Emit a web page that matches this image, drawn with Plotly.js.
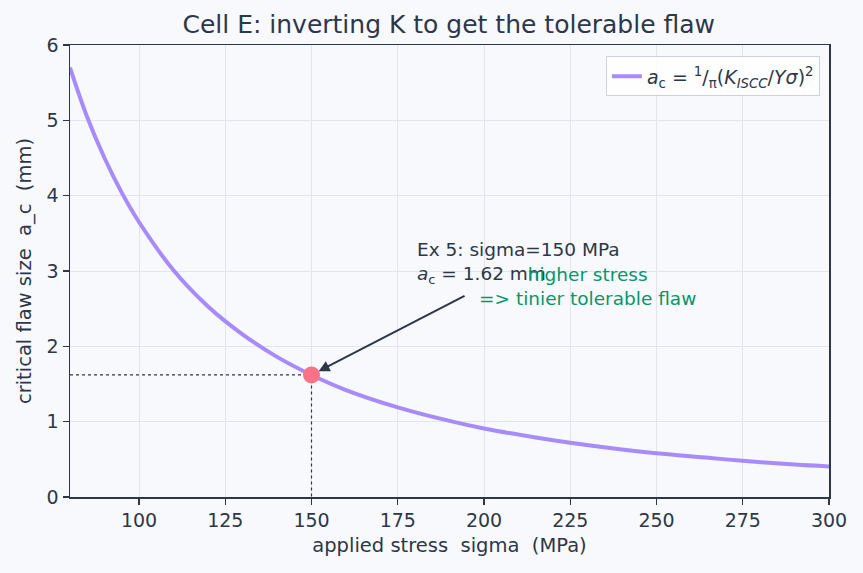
<!DOCTYPE html>
<html>
<head>
<meta charset="utf-8">
<script src="https://cdn.plot.ly/plotly-3.0.1.min.js"></script>
<style>
  html, body { margin: 0; padding: 0; background: #f8f9fd; }
  #chart { width: 863px; height: 573px; }
</style>
</head>
<body>
<div id="chart"></div>
<script>
// applied stress (MPa) and the critical flaw size a_c (mm) along the curve
const stressMPa = [80, 85, 90, 95, 100, 110, 120, 130, 140, 150, 160, 175, 190, 200, 215, 225, 240, 250, 265, 275, 290, 300];
const flawMM    = [5.70, 5.04, 4.50, 4.04, 3.65, 3.01, 2.53, 2.16, 1.86, 1.62, 1.42, 1.19, 1.01, 0.91, 0.79, 0.72, 0.63, 0.58, 0.52, 0.48, 0.43, 0.405];

// worked example 5
const exStress = [150];
const exFlaw = [1.62];

const xTicks = [100, 125, 150, 175, 200, 225, 250, 275, 300];
const yTicks = [0, 1, 2, 3, 4, 5, 6];

const ink = '#2d3748';
const font = 'DejaVu Sans';

const traces = [
  {
    x: stressMPa, y: flawMM,
    type: 'scatter', mode: 'lines',
    line: { color: '#a78bfa', width: 4, shape: 'spline', smoothing: 1.0 },
    name: '<i>a</i><sub>c</sub> = <sup>1</sup>/<sub>π</sub>(<i>K</i><sub><i>ISCC</i></sub>/<i>Yσ</i>)<sup>2</sup>',
    hoverinfo: 'skip'
  },
  {
    x: [80, exStress[0], exStress[0]], y: [exFlaw[0], exFlaw[0], 0],
    type: 'scatter', mode: 'lines',
    line: { color: ink, width: 1.2, dash: 'dot' },
    showlegend: false, hoverinfo: 'skip'
  },
  {
    x: exStress, y: exFlaw,
    type: 'scatter', mode: 'markers',
    marker: { color: '#fb7185', size: 17 },
    showlegend: false, hoverinfo: 'skip'
  }
];

const layout = {
  width: 863, height: 573,
  margin: { l: 70, r: 34, t: 45, b: 76 },
  paper_bgcolor: '#f8f9fd',
  plot_bgcolor: '#f8f9fd',
  font: { family: font, color: ink, size: 18 },
  title: {
    text: 'Cell E: inverting K to get the tolerable flaw',
    font: { family: font, size: 25, color: ink },
    x: 0.52, xanchor: 'center', y: 0.958, yanchor: 'middle'
  },
  xaxis: {
    range: [80, 300], tickvals: xTicks, ticks: 'outside', ticklen: 6, tickwidth: 1.3, tickcolor: ink,
    showline: true, linecolor: ink, linewidth: 1.5, mirror: true,
    showgrid: true, gridcolor: '#e3e5ee', gridwidth: 1, zeroline: false,
    tickfont: { family: font, size: 19, color: ink },
    title: { text: 'applied stress\u00a0 sigma\u00a0 (MPa)', font: { family: font, size: 19.5, color: ink }, standoff: 8 }
  },
  yaxis: {
    range: [0, 6], tickvals: yTicks, ticks: 'outside', ticklen: 6, tickwidth: 1.3, tickcolor: ink,
    showline: true, linecolor: ink, linewidth: 1.5, mirror: true,
    showgrid: true, gridcolor: '#e3e5ee', gridwidth: 1, zeroline: false,
    tickfont: { family: font, size: 19, color: ink },
    title: { text: 'critical flaw size\u00a0 a_c\u00a0 (mm)', font: { family: font, size: 19.5, color: ink }, standoff: 10 }
  },
  legend: {
    x: 0.988, xanchor: 'right', y: 0.975, yanchor: 'top',
    bgcolor: 'rgba(255,255,255,0.85)', bordercolor: '#cfd2da', borderwidth: 1,
    font: { family: font, size: 19, color: ink }
  },
  annotations: [
    {
      x: exStress[0], y: exFlaw[0], xref: 'x', yref: 'y',
      ax: 194.8, ay: 2.68, axref: 'x', ayref: 'y',
      text: '', showarrow: true, arrowhead: 2, arrowsize: 1.1, arrowwidth: 2,
      arrowcolor: ink, standoff: 8
    },
    {
      x: 180, y: 2.76, xref: 'x', yref: 'y',
      xanchor: 'left', yanchor: 'bottom', align: 'left', showarrow: false,
      text: 'Ex 5: sigma=150 MPa<br><i>a</i><sub>c</sub> = 1.62 mm',
      font: { family: font, size: 18.5, color: ink }
    },
    {
      x: 230, y: 2.8, xref: 'x', yref: 'y',
      xanchor: 'center', yanchor: 'middle', align: 'center', showarrow: false,
      text: 'higher stress<br>=> tinier tolerable flaw',
      font: { family: font, size: 18.5, color: '#059669' }
    }
  ]
};

Plotly.newPlot('chart', traces, layout, { displayModeBar: false, staticPlot: true });
</script>
</body>
</html>
